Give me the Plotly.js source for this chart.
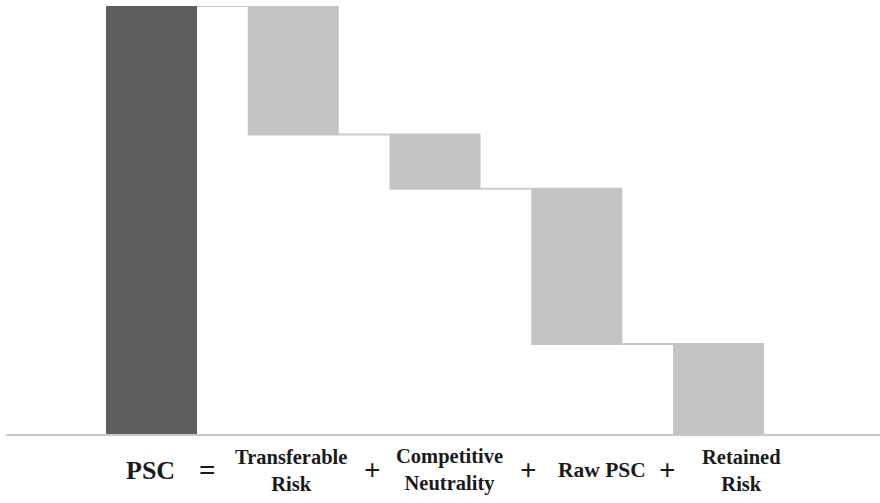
<!DOCTYPE html>
<html>
<head>
<meta charset="utf-8">
<script src="https://cdn.plot.ly/plotly-3.0.1.min.js"></script>
<style>html,body{margin:0;padding:0;background:#fff;}#chart{width:880px;height:503px;}</style>
</head>
<body>
<div id="chart"></div>
<script>
// Data
const categories = ["PSC", "Transferable Risk", "Competitive Neutrality", "Raw PSC", "Retained Risk"];
const measures = ["absolute", "relative", "relative", "relative", "relative"];
const values = [100, -30, -12.7, -36.3, -21];

// Label row (equation beneath the chart)
const labelTexts = ["PSC", "=", "Transferable<br>Risk", "+", "Competitive<br>Neutrality", "+", "Raw PSC", "+", "Retained<br>Risk"];
const labelX = [0.1659, 0.2311, 0.3261, 0.4199, 0.508, 0.5973, 0.6819, 0.7563, 0.8421];
const labelSizes = [26, 29, 20.5, 29, 20.5, 29, 21.5, 29, 20.5];

const trace = {
  type: "waterfall",
  x: categories,
  y: values,
  measure: measures,
  width: 0.642,
  textinfo: "none",
  hoverinfo: "skip",
  totals: {marker: {color: "#5e5e5c", line: {width: 0}}},
  decreasing: {marker: {color: "#c3c4c3", line: {width: 0}}},
  increasing: {marker: {color: "#c3c4c3", line: {width: 0}}},
  connector: {mode: "between", line: {color: "#cbcbcb", width: 2}}
};

const annotations = labelTexts.map((t, i) => ({
  text: t,
  xref: "paper", yref: "paper",
  x: labelX[i], y: -0.085,
  xanchor: "center", yanchor: "middle",
  showarrow: false,
  font: {family: "Liberation Serif", weight: "bold", size: labelSizes[i], color: "#1a1a1a"}
}));

const layout = {
  width: 880, height: 503,
  margin: {l: 6, r: 0, t: 6, b: 69},
  paper_bgcolor: "#ffffff",
  plot_bgcolor: "#ffffff",
  showlegend: false,
  font: {family: "Liberation Serif"},
  xaxis: {
    type: "category",
    range: [-1.0265, 5.139],
    showticklabels: false,
    ticks: "",
    showgrid: false,
    zeroline: false,
    showline: true,
    linecolor: "#c8c8c8",
    linewidth: 2
  },
  yaxis: {
    range: [0, 100],
    visible: false,
    showgrid: false,
    zeroline: false
  },
  annotations: annotations
};

Plotly.newPlot("chart", [trace], layout, {displayModeBar: false, staticPlot: true});
</script>
</body>
</html>
